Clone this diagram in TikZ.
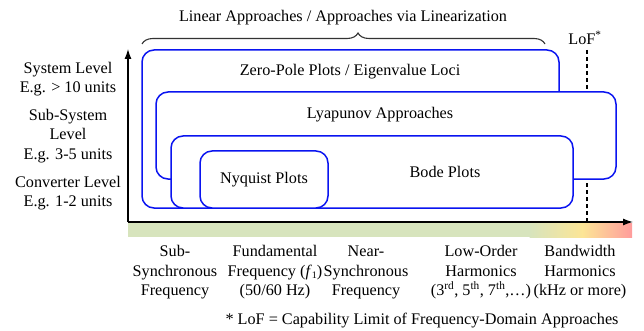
\documentclass[tikz,border=0pt]{standalone}
\usepackage{fontspec}
\setmainfont{Liberation Serif}
\usetikzlibrary{arrows.meta,decorations.pathreplacing}
\definecolor{bargreen}{HTML}{D7E4BD}
\definecolor{baryellow}{HTML}{FCE596}
\definecolor{barred}{HTML}{FF9C9C}
\definecolor{boxblue}{HTML}{0A14F0}
\newcommand{\smallsub}[1]{\raisebox{-0.25ex}{\fontsize{10}{10}\selectfont #1}}
\tikzset{
  boxst/.style={draw=boxblue, line width=1.5pt, fill=white, rounded corners=12pt, inner sep=0pt},
  txt/.style={inner sep=0pt, align=center, font=\fontsize{16.2}{19.5}\selectfont},
  axisst/.style={line width=1.3pt, -{Latex[length=10pt,width=7pt]}},
}
\begin{document}
\begin{tikzpicture}[x=1pt,y=-1pt]
\useasboundingbox (0,0) rectangle (644,331);
% gradient bar
\fill[bargreen] (128,223) rectangle (530,237);
\shade[left color=bargreen,right color=baryellow] (529.5,223) rectangle (583,237);
\shade[left color=baryellow,right color=barred] (582.5,223) rectangle (632,237);
% LoF dashed line
\coordinate (lofT) at (587,50);
\coordinate (lofB) at (587,222);
\draw[line width=1.1pt, dash pattern=on 4pt off 3pt] (lofT) -- (lofB);
% boxes
\node[boxst, minimum width=417pt, minimum height=158pt] (zp) at (350.5,129) {};
\node[boxst, minimum width=460pt, minimum height=87pt] (ly) at (386,135.5) {};
\node[boxst, minimum width=402pt, minimum height=72pt] (bo) at (372,172) {};
\node[boxst, minimum width=128pt, minimum height=57pt] (ny) at (264,179.5) {};
\node[txt] (zpt) at (350,72) {Zero-Pole Plots / Eigenvalue Loci};
\node[txt] (lyt) at (380,115) {Lyapunov Approaches};
\node[txt] (bot) at (445,172) {Bode Plots};
\node[txt] (nyt) at (264,180) {Nyquist Plots};
% axes
\coordinate (o) at (128,222);
\coordinate (ytop) at (128,49);
\coordinate (xend) at (633,222);
\draw[axisst] (o) -- (ytop);
\draw[axisst] (o) -- (xend);
% brace
\coordinate (brL) at (142,44);
\coordinate (brR) at (545,44);
\draw[line width=1.1pt, color=black!80, decorate, decoration={brace, amplitude=11pt, aspect=0.536}] (brL) -- (brR);
\node[txt] (lin) at (343,18) {Linear Approaches / Approaches via Linearization};
\node[txt] (lof) at (585,38) {LoF\textsuperscript{*}};
% left labels
\node[txt] (sys) at (68,79) {System Level\\E.g. > 10 units};
\node[txt] (sub) at (68,136) {Sub-System\\Level\\E.g. 3-5 units};
\node[txt] (con) at (68,193) {Converter Level\\E.g. 1-2 units};
% bottom labels
\node[txt] (f1) at (175,272.5) {Sub-\\Synchronous\\Frequency};
\node[txt] (f2) at (275,272.5) {Fundamental\\Frequency (\textit{f}\smallsub{1})\\(50/60 Hz)};
\node[txt] (f3) at (366,272.5) {Near-\\Synchronous\\Frequency};
\node[txt] (f4) at (481,272.5) {Low-Order\\Harmonics\\(3\textsuperscript{rd}, 5\textsuperscript{th}, 7\textsuperscript{th},\dots)};
\node[txt] (f5) at (580,272.5) {Bandwidth\\Harmonics\\(kHz or more)};
\node[txt] (note) at (422,321) {* LoF = Capability Limit of Frequency-Domain Approaches};
\end{tikzpicture}
\end{document}
